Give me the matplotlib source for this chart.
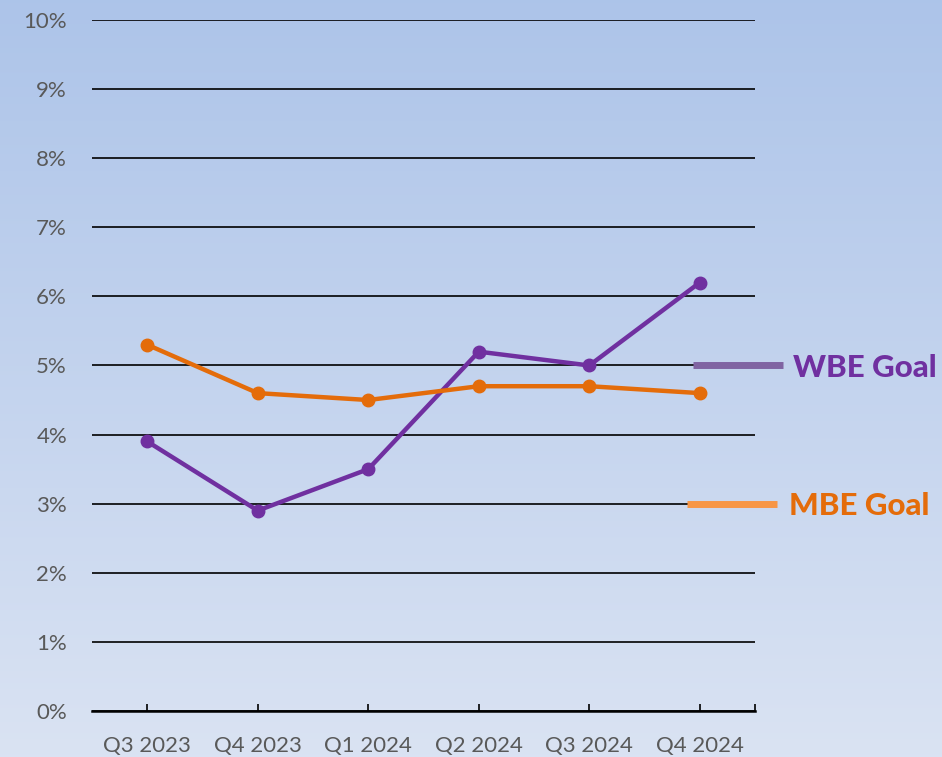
import numpy as np
import matplotlib
matplotlib.use('Agg')
import matplotlib.pyplot as plt

quarters = ['Q3 2023', 'Q4 2023', 'Q1 2024', 'Q2 2024', 'Q3 2024', 'Q4 2024']
wbe = [3.9, 2.9, 3.5, 5.2, 5.0, 6.2]
mbe = [5.3, 4.6, 4.5, 4.7, 4.7, 4.6]
wbe_goal = 5
mbe_goal = 3

purple = '#7030a0'
orange = '#e46c0a'

plt.rcParams['font.family'] = ['Lato', 'DejaVu Sans']

fig = plt.figure(figsize=(9.42, 7.57), dpi=100)

# background gradient
bg = fig.add_axes([0, 0, 1, 1], zorder=0)
top = np.array([0.678, 0.769, 0.914])
bot = np.array([0.855, 0.890, 0.953])
t = np.linspace(0, 1, 256)[:, None]
grad = top * (1 - t) + bot * t
bg.imshow(grad[:, None, :], aspect='auto', extent=[0, 1, 0, 1])
bg.set_axis_off()

ax = fig.add_axes([0.0977, 0.0608, 0.7038, 0.9128], zorder=1)
ax.patch.set_alpha(0)
x = np.arange(len(quarters))

ax.plot(x, wbe, color=purple, lw=3.2, marker='o', ms=9, zorder=3)
ax.plot(x, mbe, color=orange, lw=3.2, marker='o', ms=9, zorder=3)

ax.set_xlim(-0.5, len(quarters) - 0.5)
ax.set_ylim(0, 10)
ax.set_yticks(range(0, 11))
ax.set_yticklabels([f'{v}%' for v in range(0, 11)])
ax.yaxis.grid(True, color='black', lw=1.2)
ax.set_axisbelow(True)
ax.set_xticks(x)
ax.set_xticklabels(quarters)
ax.set_xticks([len(quarters) - 0.5], minor=True)

for s in ['left', 'right', 'top']:
    ax.spines[s].set_visible(False)
ax.spines['bottom'].set_linewidth(1.8)
ax.tick_params(axis='y', length=0, pad=18, labelsize=16, labelcolor='#595959')
ax.tick_params(axis='x', which='both', direction='in', length=5, width=1.2,
               pad=18, labelsize=16, labelcolor='#595959')

# goal markers
ax.plot([0.906, 1.042], [wbe_goal, wbe_goal], transform=ax.get_yaxis_transform(),
        color='#8064a2', lw=5, solid_capstyle='butt', clip_on=False)
ax.plot([0.897, 1.033], [mbe_goal, mbe_goal], transform=ax.get_yaxis_transform(),
        color='#f79646', lw=5, solid_capstyle='butt', clip_on=False)
ax.text(1.057, wbe_goal, 'WBE Goal', transform=ax.get_yaxis_transform(),
        color=purple, fontsize=22.5, fontweight='black', va='center_baseline', ha='left')
ax.text(1.051, mbe_goal, 'MBE Goal', transform=ax.get_yaxis_transform(),
        color=orange, fontsize=22.5, fontweight='black', va='center_baseline', ha='left')

fig.savefig('out.png', dpi=100)
